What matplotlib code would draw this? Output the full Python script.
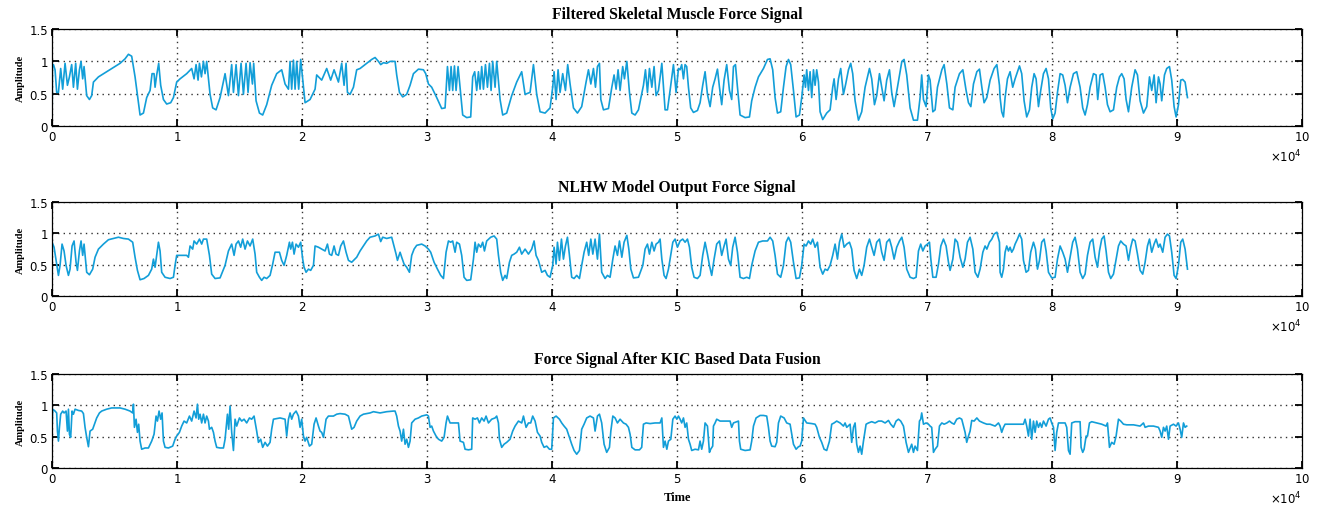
import matplotlib
matplotlib.use('Agg')
import matplotlib.pyplot as plt
from matplotlib.ticker import FuncFormatter

# (sample index, amplitude)
skeletal = [
    (0, 0.0), (30, 0.92), (110, 0.95), (240, 0.87), (370, 0.52), (510, 0.52), (690, 0.89), (850, 0.57),
    (1040, 0.97), (1230, 0.63), (1390, 0.76), (1570, 0.95), (1710, 0.60), (1890, 0.97), (2030, 0.57),
    (2190, 0.87), (2320, 1.00), (2450, 0.73), (2560, 0.92), (2770, 0.47), (2990, 0.41), (3170, 0.47),
    (3310, 0.68), (3710, 0.76), (4370, 0.84), (5040, 0.92), (5440, 0.97), (5840, 1.04), (6110, 1.11),
    (6370, 1.08), (6640, 0.76), (7040, 0.17), (7310, 0.20), (7570, 0.44), (7840, 0.55), (8000, 0.81),
    (8160, 0.81), (8240, 0.60), (8370, 0.79), (8530, 0.97), (8690, 0.63), (8910, 0.41), (9170, 0.34),
    (9490, 0.36), (9710, 0.44), (9970, 0.68), (10240, 0.73), (10770, 0.81), (11170, 0.89), (11360, 0.73),
    (11520, 0.95), (11680, 0.71), (11790, 0.97), (11950, 0.76), (12110, 1.00), (12240, 0.81), (12370, 1.00),
    (12640, 0.49), (12850, 0.28), (13120, 0.25), (13440, 0.44), (13840, 0.81), (14110, 0.47), (14370, 0.95),
    (14510, 0.52), (14720, 0.95), (14910, 0.47), (15120, 0.97), (15310, 0.49), (15520, 0.97), (15680, 0.52),
    (15840, 0.98), (16030, 0.65), (16130, 0.97), (16320, 0.39), (16590, 0.20), (16850, 0.17), (17170, 0.33),
    (17570, 0.63), (17970, 0.81), (18370, 0.87), (18640, 0.65), (18910, 0.57), (19040, 1.00), (19170, 0.57),
    (19310, 1.02), (19440, 0.57), (19570, 1.00), (19730, 0.57), (19890, 1.03), (20110, 0.60), (20240, 0.36),
    (20640, 0.41), (21040, 0.57), (21170, 0.79), (21570, 0.71), (21970, 0.89), (22290, 0.71), (22560, 0.87),
    (22910, 0.68), (23170, 0.97), (23360, 0.63), (23520, 0.97), (23630, 0.52), (23840, 0.49), (24110, 0.60),
    (24370, 0.87), (24640, 0.89), (25170, 0.97), (25570, 1.03), (25840, 1.06), (26110, 1.00), (26290, 0.95),
    (26510, 0.98), (26770, 0.97), (27040, 1.00), (27440, 1.00), (27570, 0.79), (27790, 0.52), (28050, 0.45),
    (28370, 0.49), (28640, 0.63), (28910, 0.81), (29310, 0.88), (29710, 0.87), (29890, 0.81), (30110, 0.65),
    (30370, 0.60), (30770, 0.44), (31170, 0.27), (31440, 0.28), (31630, 0.92), (31790, 0.55), (31920, 0.92),
    (32050, 0.55), (32190, 0.93), (32320, 0.55), (32480, 0.92), (32640, 0.60), (32850, 0.17), (33170, 0.13),
    (33490, 0.14), (33650, 0.76), (33810, 0.84), (33970, 0.55), (34110, 0.84), (34240, 0.57), (34370, 0.92),
    (34510, 0.57), (34670, 0.95), (34830, 0.60), (34990, 0.97), (35120, 0.55), (35250, 1.00), (35440, 0.60),
    (35570, 1.00), (35840, 0.41), (36050, 0.17), (36370, 0.20), (36770, 0.47), (37170, 0.68), (37570, 0.84),
    (37840, 0.49), (38240, 0.52), (38510, 0.95), (38770, 0.49), (39040, 0.22), (39440, 0.20), (39840, 0.28),
    (40050, 0.60), (40160, 0.84), (40320, 0.41), (40480, 0.87), (40640, 0.52), (40850, 0.81), (41070, 0.55),
    (41250, 0.95), (41440, 0.65), (41710, 0.28), (42030, 0.20), (42370, 0.30), (42720, 0.68), (42910, 0.87),
    (43100, 0.65), (43310, 0.89), (43470, 0.60), (43630, 0.92), (43790, 0.97), (43900, 0.41), (44110, 0.25),
    (44510, 0.27), (44780, 0.60), (44960, 0.79), (45120, 0.57), (45280, 0.87), (45440, 0.55), (45650, 0.92),
    (45790, 0.73), (45980, 1.00), (46190, 0.52), (46380, 0.20), (46640, 0.17), (46910, 0.25), (47310, 0.63),
    (47470, 0.87), (47630, 0.52), (47790, 0.89), (47980, 0.60), (48160, 0.92), (48320, 0.47), (48510, 0.55),
    (48780, 0.97), (49040, 0.25), (49230, 0.25), (49440, 0.55), (49710, 0.95), (49920, 0.52), (50110, 0.89),
    (50240, 0.87), (50370, 0.95), (50510, 0.73), (50640, 0.95), (50770, 0.92), (50910, 0.60), (51090, 0.28),
    (51310, 0.21), (51630, 0.24), (51840, 0.36), (52050, 0.63), (52240, 0.84), (52430, 0.49), (52640, 0.30),
    (52850, 0.60), (53040, 0.73), (53230, 0.88), (53390, 0.60), (53570, 0.33), (53760, 0.71), (53970, 0.95),
    (54190, 0.55), (54370, 0.41), (54510, 0.92), (54670, 0.95), (54830, 0.60), (55040, 0.17), (55440, 0.13),
    (55790, 0.14), (55970, 0.39), (56240, 0.60), (56510, 0.76), (56910, 0.89), (57230, 1.03), (57440, 1.04),
    (57650, 0.87), (57840, 0.44), (58030, 0.20), (58290, 0.22), (58510, 0.60), (58720, 0.92), (58910, 1.03),
    (59090, 0.95), (59310, 0.55), (59520, 0.14), (59790, 0.17), (59970, 0.44), (60160, 0.79), (60270, 0.60),
    (60370, 0.87), (60510, 0.55), (60640, 0.84), (60770, 0.44), (60910, 0.87), (61040, 0.63), (61170, 0.87),
    (61310, 0.68), (61440, 0.22), (61650, 0.10), (61970, 0.20), (62240, 0.25), (62450, 0.60), (62560, 0.73),
    (62720, 0.41), (62910, 0.73), (63090, 0.89), (63310, 0.49), (63490, 0.65), (63710, 0.87), (63890, 0.97),
    (64050, 0.81), (64240, 0.39), (64510, 0.09), (64770, 0.22), (65040, 0.60), (65390, 0.89), (65570, 0.73),
    (65790, 0.33), (65970, 0.47), (66190, 0.81), (66370, 0.60), (66560, 0.39), (66770, 0.71), (66990, 0.87),
    (67170, 0.52), (67360, 0.30), (67630, 0.60), (67980, 1.00), (68160, 1.03), (68370, 0.79), (68640, 0.28),
    (68910, 0.09), (69230, 0.09), (69440, 0.44), (69570, 0.79), (69710, 0.41), (69920, 0.30), (70110, 0.79),
    (70240, 0.71), (70460, 0.22), (70640, 0.25), (70830, 0.60), (71180, 0.87), (71360, 0.95), (71580, 0.65),
    (71790, 0.28), (72060, 0.25), (72240, 0.60), (72590, 0.81), (72860, 0.87), (73120, 0.55), (73310, 0.36),
    (73500, 0.30), (73710, 0.65), (73980, 0.84), (74190, 0.88), (74380, 0.60), (74560, 0.36), (74780, 0.44),
    (75040, 0.71), (75360, 0.89), (75580, 0.95), (75790, 0.63), (75840, 0.44), (75970, 0.22), (76110, 0.14),
    (76240, 0.44), (76430, 0.73), (76640, 0.84), (76850, 0.60), (77040, 0.73), (77230, 0.84), (77390, 0.93),
    (77570, 0.81), (77760, 0.39), (77970, 0.14), (78190, 0.25), (78370, 0.60), (78560, 0.81), (78720, 0.73),
    (78910, 0.30), (79090, 0.55), (79310, 0.81), (79520, 0.89), (79710, 0.73), (79890, 0.28), (80050, 0.11),
    (80240, 0.20), (80430, 0.52), (80640, 0.81), (80850, 0.79), (81040, 0.63), (81230, 0.36), (81440, 0.60),
    (81710, 0.81), (81970, 0.84), (82240, 0.60), (82450, 0.28), (82640, 0.17), (82830, 0.33), (83040, 0.60),
    (83310, 0.81), (83520, 0.79), (83650, 0.41), (83840, 0.79), (84050, 0.81), (84240, 0.60), (84430, 0.33),
    (84640, 0.22), (84910, 0.25), (85170, 0.60), (85390, 0.76), (85570, 0.81), (85760, 0.73), (85920, 0.41),
    (86110, 0.22), (86370, 0.60), (86640, 0.87), (86830, 0.79), (87040, 0.39), (87310, 0.20), (87570, 0.30),
    (87790, 0.76), (87970, 0.55), (88160, 0.79), (88320, 0.36), (88510, 0.76), (88640, 0.65), (88770, 0.39),
    (88990, 0.79), (89170, 0.89), (89390, 0.92), (89570, 0.71), (89760, 0.30), (89920, 0.14), (90110, 0.33),
    (90290, 0.71), (90450, 0.72), (90640, 0.68), (90830, 0.44),
]

nlhw = [
    (0, 0.86), (160, 0.78), (320, 0.57), (510, 0.33), (640, 0.49), (800, 0.83), (960, 0.72), (1120, 0.49),
    (1310, 0.33), (1440, 0.43), (1600, 0.80), (1760, 0.88), (1920, 0.54), (2030, 0.41), (2190, 0.72),
    (2320, 0.88), (2450, 0.65), (2560, 0.83), (2770, 0.38), (2990, 0.34), (3250, 0.43), (3440, 0.62),
    (3710, 0.75), (4110, 0.83), (4510, 0.90), (4910, 0.92), (5310, 0.94), (5710, 0.92), (6110, 0.91),
    (6450, 0.86), (6640, 0.62), (6830, 0.41), (7040, 0.26), (7360, 0.28), (7710, 0.33), (7970, 0.43),
    (8110, 0.59), (8240, 0.46), (8370, 0.65), (8510, 0.86), (8640, 0.72), (8770, 0.38), (9040, 0.30),
    (9440, 0.28), (9710, 0.30), (9840, 0.49), (9970, 0.65), (10770, 0.65), (10910, 0.62), (11040, 0.80),
    (11250, 0.75), (11360, 0.88), (11570, 0.83), (11790, 0.91), (11970, 0.83), (12110, 0.91), (12370, 0.91),
    (12590, 0.65), (12770, 0.35), (13040, 0.28), (13440, 0.29), (13840, 0.49), (14110, 0.72), (14370, 0.83),
    (14560, 0.65), (14720, 0.83), (14910, 0.88), (15090, 0.78), (15250, 0.91), (15440, 0.75), (15630, 0.88),
    (15840, 0.80), (16050, 0.91), (16240, 0.67), (16370, 0.38), (16590, 0.30), (16770, 0.25), (16960, 0.30),
    (17170, 0.28), (17440, 0.33), (17650, 0.51), (17840, 0.70), (18190, 0.70), (18370, 0.57), (18560, 0.49),
    (18770, 0.65), (18990, 0.86), (19090, 0.75), (19230, 0.86), (19360, 0.67), (19520, 0.83), (19710, 0.78),
    (19890, 0.86), (20050, 0.59), (20160, 0.46), (20320, 0.38), (20510, 0.43), (20690, 0.41), (20910, 0.49),
    (21040, 0.80), (21310, 0.78), (21570, 0.75), (21840, 0.72), (22030, 0.83), (22190, 0.67), (22370, 0.65),
    (22560, 0.80), (22720, 0.67), (22910, 0.65), (23090, 0.80), (23310, 0.88), (23520, 0.70), (23710, 0.57),
    (23970, 0.54), (24370, 0.62), (24640, 0.72), (24910, 0.80), (25170, 0.88), (25440, 0.94), (25840, 0.96),
    (26110, 0.99), (26290, 0.87), (26450, 0.94), (26770, 0.92), (27170, 0.94), (27310, 0.83), (27520, 0.67),
    (27630, 0.57), (27840, 0.70), (27970, 0.62), (28160, 0.51), (28370, 0.46), (28590, 0.38), (28770, 0.65),
    (28960, 0.75), (29170, 0.81), (29570, 0.83), (29840, 0.80), (30110, 0.75), (30290, 0.70), (30560, 0.54),
    (30830, 0.43), (31090, 0.33), (31310, 0.28), (31520, 0.70), (31710, 0.88), (31890, 0.86), (32050, 0.88),
    (32240, 0.70), (32370, 0.86), (32590, 0.83), (32770, 0.65), (32960, 0.30), (33170, 0.25), (33490, 0.26),
    (33710, 0.59), (33840, 0.86), (33970, 0.70), (34110, 0.83), (34290, 0.78), (34450, 0.86), (34590, 0.72),
    (34770, 0.88), (35090, 0.94), (35360, 0.96), (35570, 0.91), (35710, 0.65), (35890, 0.38), (36050, 0.25),
    (36240, 0.33), (36370, 0.28), (36590, 0.54), (36770, 0.65), (36960, 0.67), (37170, 0.70), (37390, 0.78),
    (37570, 0.67), (37840, 0.75), (38110, 0.67), (38370, 0.75), (38560, 0.88), (38720, 0.65), (38910, 0.57),
    (39170, 0.38), (39440, 0.41), (39630, 0.33), (39840, 0.30), (40050, 0.49), (40160, 0.78), (40320, 0.51),
    (40430, 0.86), (40590, 0.57), (40750, 0.91), (40910, 0.59), (41070, 0.80), (41230, 0.94), (41390, 0.65),
    (41570, 0.30), (41760, 0.28), (41970, 0.33), (42190, 0.28), (42370, 0.49), (42560, 0.70), (42770, 0.86),
    (42930, 0.65), (43100, 0.91), (43260, 0.67), (43440, 0.91), (43630, 0.59), (43790, 0.99), (43970, 0.38),
    (44240, 0.28), (44430, 0.33), (44640, 0.30), (44860, 0.59), (45040, 0.80), (45230, 0.65), (45390, 0.88),
    (45580, 0.62), (45760, 0.86), (45980, 0.97), (46140, 0.75), (46300, 0.43), (46510, 0.29), (46910, 0.30),
    (47260, 0.49), (47440, 0.75), (47630, 0.83), (47790, 0.67), (47980, 0.86), (48160, 0.72), (48320, 0.83),
    (48510, 0.86), (48640, 0.91), (48780, 0.59), (48960, 0.33), (49120, 0.28), (49310, 0.43), (49440, 0.59),
    (49660, 0.86), (49840, 0.91), (50030, 0.78), (50240, 0.88), (50450, 0.91), (50640, 0.86), (50830, 0.91),
    (50990, 0.78), (51170, 0.46), (51360, 0.30), (51630, 0.28), (51840, 0.33), (52050, 0.65), (52240, 0.86),
    (52430, 0.67), (52590, 0.49), (52770, 0.33), (52960, 0.59), (53170, 0.83), (53390, 0.88), (53570, 0.65),
    (53760, 0.80), (53920, 0.91), (54110, 0.59), (54290, 0.49), (54450, 0.78), (54640, 0.94), (54830, 0.70),
    (55040, 0.30), (55310, 0.28), (55570, 0.30), (55790, 0.28), (55970, 0.49), (56240, 0.72), (56510, 0.86),
    (56850, 0.88), (57230, 0.88), (57440, 0.94), (57650, 0.88), (57840, 0.65), (58030, 0.35), (58290, 0.30),
    (58510, 0.49), (58720, 0.86), (58910, 0.94), (59090, 0.86), (59310, 0.54), (59520, 0.28), (59790, 0.29),
    (59970, 0.49), (60160, 0.83), (60320, 0.80), (60510, 0.88), (60690, 0.83), (60850, 0.91), (61040, 0.78),
    (61230, 0.86), (61440, 0.46), (61650, 0.35), (61840, 0.43), (62030, 0.41), (62240, 0.49), (62450, 0.65),
    (62640, 0.83), (62830, 0.59), (62990, 0.86), (63170, 0.99), (63360, 0.78), (63570, 0.83), (63790, 0.86),
    (63970, 0.75), (64160, 0.41), (64370, 0.28), (64590, 0.43), (64770, 0.33), (64960, 0.49), (65170, 0.78),
    (65390, 0.91), (65570, 0.78), (65760, 0.65), (65970, 0.86), (66190, 0.91), (66370, 0.70), (66560, 0.57),
    (66770, 0.86), (66990, 0.91), (67170, 0.78), (67360, 0.59), (67570, 0.78), (67790, 0.88), (67980, 0.94),
    (68160, 0.78), (68370, 0.43), (68640, 0.30), (68910, 0.28), (69120, 0.30), (69310, 0.72), (69490, 0.83),
    (69660, 0.72), (69840, 0.80), (70030, 0.83), (70190, 0.86), (70300, 0.59), (70460, 0.30), (70720, 0.30),
    (70910, 0.51), (71100, 0.80), (71310, 0.91), (71520, 0.80), (71710, 0.54), (71840, 0.41), (72060, 0.59),
    (72240, 0.91), (72430, 0.86), (72640, 0.62), (72860, 0.46), (73040, 0.59), (73230, 0.86), (73440, 0.94),
    (73660, 0.75), (73840, 0.38), (74060, 0.30), (74240, 0.43), (74460, 0.70), (74640, 0.80), (74780, 0.75),
    (74990, 0.86), (75180, 0.91), (75360, 0.99), (75580, 1.02), (75790, 0.86), (75840, 0.38), (75970, 0.30),
    (76110, 0.43), (76240, 0.70), (76370, 0.80), (76510, 0.72), (76640, 0.78), (76770, 0.70), (76910, 0.75),
    (77040, 0.83), (77230, 0.91), (77390, 0.99), (77570, 0.91), (77710, 0.57), (77920, 0.38), (78110, 0.41),
    (78290, 0.70), (78510, 0.86), (78670, 0.75), (78830, 0.43), (78990, 0.57), (79170, 0.86), (79360, 0.91),
    (79520, 0.72), (79710, 0.38), (79970, 0.29), (80240, 0.30), (80430, 0.59), (80640, 0.80), (80850, 0.70),
    (81040, 0.59), (81230, 0.38), (81440, 0.62), (81650, 0.86), (81840, 0.94), (82030, 0.75), (82240, 0.38),
    (82450, 0.28), (82640, 0.35), (82830, 0.65), (83040, 0.86), (83250, 0.91), (83440, 0.62), (83630, 0.46),
    (83790, 0.72), (83970, 0.91), (84160, 0.96), (84320, 0.72), (84510, 0.38), (84690, 0.28), (84910, 0.35),
    (85120, 0.59), (85310, 0.80), (85490, 0.88), (85710, 0.83), (85920, 0.80), (86110, 0.57), (86290, 0.78),
    (86450, 0.91), (86640, 0.88), (86830, 0.67), (87040, 0.41), (87250, 0.35), (87440, 0.54), (87630, 0.80),
    (87790, 0.91), (87970, 0.70), (88160, 0.83), (88320, 0.91), (88510, 0.78), (88640, 0.83), (88850, 0.70),
    (89040, 0.94), (89230, 0.99), (89390, 0.96), (89570, 0.70), (89760, 0.33), (89920, 0.28), (90110, 0.49),
    (90290, 0.86), (90450, 0.91), (90640, 0.75), (90830, 0.43),
]

fused = [
    (0, 0.62), (50, 0.94), (240, 0.91), (370, 0.88), (430, 0.59), (510, 0.43), (590, 0.65), (690, 0.86),
    (850, 0.91), (960, 0.88), (1120, 0.91), (1230, 0.59), (1310, 0.94), (1390, 0.54), (1490, 0.49),
    (1600, 0.91), (1710, 0.86), (1840, 0.94), (2110, 0.92), (2370, 0.91), (2510, 0.87), (2640, 0.65),
    (2770, 0.49), (2910, 0.34), (3040, 0.59), (3250, 0.62), (3570, 0.80), (3790, 0.88), (3970, 0.91),
    (4370, 0.94), (4770, 0.96), (5440, 0.96), (5840, 0.94), (6240, 0.91), (6450, 0.88), (6510, 1.02),
    (6590, 0.65), (6720, 0.78), (6830, 0.57), (6930, 0.70), (7040, 0.43), (7170, 0.30), (7440, 0.32),
    (7710, 0.32), (7970, 0.43), (8160, 0.54), (8320, 0.83), (8430, 0.75), (8560, 0.91), (8690, 0.78),
    (8800, 0.88), (8910, 0.43), (9040, 0.33), (9310, 0.32), (9650, 0.35), (9840, 0.46), (9970, 0.51),
    (10190, 0.57), (10370, 0.67), (10560, 0.75), (10770, 0.72), (10990, 0.83), (11170, 0.75), (11360, 0.91),
    (11520, 0.80), (11630, 1.02), (11730, 0.78), (11840, 0.86), (11970, 0.72), (12110, 0.86), (12240, 0.72),
    (12370, 0.83), (12510, 0.75), (12590, 0.62), (12770, 0.65), (12910, 0.57), (13040, 0.43), (13170, 0.33),
    (13440, 0.32), (13710, 0.32), (13840, 0.46), (14030, 0.86), (14130, 0.62), (14240, 0.99), (14370, 0.57),
    (14510, 0.28), (14640, 0.78), (14770, 0.67), (14990, 0.80), (15170, 0.75), (15360, 0.78), (15570, 0.72),
    (15790, 0.80), (15970, 0.78), (16160, 0.83), (16370, 0.59), (16510, 0.41), (16690, 0.46), (16850, 0.33),
    (17040, 0.41), (17230, 0.35), (17440, 0.41), (17570, 0.62), (17710, 0.78), (18240, 0.80), (18640, 0.78),
    (18770, 0.51), (18910, 0.78), (19040, 0.88), (19170, 0.78), (19310, 0.86), (19520, 0.91), (19710, 0.83),
    (19840, 0.65), (19970, 0.78), (20110, 0.51), (20240, 0.43), (20370, 0.49), (20590, 0.35), (20770, 0.38),
    (20960, 0.70), (21120, 0.80), (21310, 0.67), (21440, 0.59), (21570, 0.57), (21710, 0.49), (21920, 0.78),
    (22110, 0.83), (22510, 0.83), (22770, 0.86), (23040, 0.87), (23440, 0.86), (23710, 0.83), (23970, 0.62),
    (24160, 0.65), (24370, 0.75), (24640, 0.83), (24910, 0.86), (25440, 0.88), (25710, 0.90), (26240, 0.88),
    (26770, 0.90), (27310, 0.91), (27440, 0.91), (27570, 0.83), (27710, 0.67), (27840, 0.59), (27970, 0.43),
    (28110, 0.62), (28240, 0.38), (28370, 0.46), (28510, 0.33), (28640, 0.43), (28770, 0.72), (29040, 0.78),
    (29310, 0.80), (29570, 0.83), (29970, 0.85), (30110, 0.83), (30240, 0.65), (30370, 0.67), (30510, 0.59),
    (30720, 0.51), (30910, 0.46), (31170, 0.43), (31360, 0.49), (31520, 0.72), (31630, 0.83), (31840, 0.72),
    (32110, 0.72), (32510, 0.72), (32640, 0.43), (32910, 0.41), (33040, 0.30), (33310, 0.29), (33570, 0.30),
    (33650, 0.80), (33840, 0.78), (34030, 0.80), (34190, 0.72), (34370, 0.80), (34560, 0.75), (34720, 0.83),
    (34910, 0.72), (35170, 0.78), (35440, 0.80), (35570, 0.83), (35710, 0.72), (35790, 0.46), (35970, 0.33),
    (36160, 0.38), (36370, 0.41), (36640, 0.46), (36850, 0.59), (37040, 0.67), (37310, 0.75), (37570, 0.72),
    (37710, 0.83), (37920, 0.65), (38110, 0.72), (38290, 0.72), (38450, 0.83), (38640, 0.75), (38830, 0.57),
    (39040, 0.51), (39170, 0.41), (39360, 0.33), (39570, 0.35), (39790, 0.30), (39970, 0.30), (40110, 0.80),
    (40320, 0.83), (40590, 0.78), (40770, 0.72), (40960, 0.67), (41170, 0.62), (41390, 0.49), (41570, 0.38),
    (41760, 0.28), (41970, 0.22), (42190, 0.28), (42370, 0.62), (42560, 0.70), (42770, 0.80), (43040, 0.83),
    (43310, 0.80), (43440, 0.59), (43630, 0.83), (43790, 0.86), (43970, 0.72), (44160, 0.38), (44370, 0.25),
    (44590, 0.33), (44700, 0.59), (44860, 0.83), (45040, 0.80), (45230, 0.72), (45440, 0.78), (45710, 0.72),
    (45920, 0.70), (46110, 0.65), (46240, 0.54), (46380, 0.33), (46640, 0.29), (46990, 0.29), (47170, 0.33),
    (47310, 0.70), (47520, 0.72), (47840, 0.71), (48240, 0.72), (48640, 0.72), (48780, 0.80), (48910, 0.33),
    (49040, 0.43), (49180, 0.30), (49310, 0.43), (49500, 0.46), (49660, 0.78), (49840, 0.83), (49980, 0.78),
    (50110, 0.83), (50240, 0.78), (50370, 0.72), (50510, 0.80), (50640, 0.65), (50770, 0.72), (50910, 0.46),
    (51040, 0.38), (51170, 0.28), (51440, 0.30), (51710, 0.29), (51840, 0.43), (51970, 0.30), (52110, 0.43),
    (52240, 0.72), (52430, 0.67), (52590, 0.25), (52690, 0.30), (52850, 0.35), (52910, 0.67), (53040, 0.72),
    (53170, 0.78), (53440, 0.75), (53840, 0.75), (54240, 0.75), (54370, 0.65), (54510, 0.72), (54910, 0.75),
    (54990, 0.43), (55090, 0.30), (55440, 0.28), (55840, 0.29), (55970, 0.43), (56110, 0.67), (56320, 0.80),
    (56640, 0.84), (56910, 0.84), (57170, 0.83), (57310, 0.65), (57440, 0.43), (57570, 0.35), (57840, 0.34),
    (57970, 0.41), (58110, 0.72), (58290, 0.83), (58560, 0.80), (58770, 0.72), (59040, 0.70), (59310, 0.38),
    (59520, 0.30), (59710, 0.34), (59840, 0.35), (59970, 0.43), (60110, 0.80), (60370, 0.72), (60770, 0.71),
    (61040, 0.70), (61170, 0.65), (61390, 0.49), (61570, 0.41), (61760, 0.30), (61970, 0.28), (62190, 0.43),
    (62370, 0.70), (62560, 0.72), (62770, 0.75), (63040, 0.72), (63310, 0.67), (63440, 0.72), (63570, 0.65),
    (63840, 0.70), (63970, 0.41), (64110, 0.65), (64240, 0.72), (64370, 0.38), (64510, 0.25), (64640, 0.35),
    (64770, 0.22), (64910, 0.43), (65120, 0.70), (65310, 0.72), (65570, 0.74), (65840, 0.72), (66110, 0.75),
    (66370, 0.75), (66640, 0.72), (66910, 0.76), (67090, 0.70), (67310, 0.65), (67520, 0.75), (67710, 0.78),
    (67890, 0.75), (68110, 0.67), (68320, 0.41), (68510, 0.25), (68770, 0.38), (68910, 0.25), (69040, 0.35),
    (69230, 0.28), (69390, 0.75), (69490, 0.78), (69570, 0.88), (69710, 0.70), (69920, 0.72), (70110, 0.70),
    (70240, 0.67), (70370, 0.65), (70510, 0.25), (70640, 0.30), (70830, 0.35), (70990, 0.67), (71180, 0.72),
    (71360, 0.70), (71580, 0.72), (71790, 0.75), (71970, 0.72), (72160, 0.70), (72370, 0.78), (72590, 0.80),
    (72770, 0.78), (73040, 0.57), (73170, 0.41), (73310, 0.51), (73440, 0.59), (73570, 0.76), (73760, 0.75),
    (73980, 0.80), (74190, 0.75), (74510, 0.72), (74780, 0.70), (75040, 0.70), (75440, 0.67), (75710, 0.72),
    (75840, 0.67), (75970, 0.57), (76110, 0.65), (76240, 0.70), (76370, 0.70), (76910, 0.70), (77440, 0.70),
    (77710, 0.70), (77840, 0.78), (77970, 0.67), (78110, 0.51), (78240, 0.78), (78370, 0.46), (78510, 0.75),
    (78640, 0.57), (78770, 0.75), (78910, 0.65), (79040, 0.72), (79170, 0.65), (79310, 0.75), (79520, 0.67),
    (79710, 0.78), (79840, 0.80), (79970, 0.72), (80110, 0.65), (80240, 0.28), (80370, 0.57), (80510, 0.72),
    (80770, 0.72), (81040, 0.72), (81170, 0.65), (81310, 0.28), (81440, 0.22), (81570, 0.72), (81840, 0.74),
    (82240, 0.74), (82320, 0.33), (82450, 0.25), (82560, 0.30), (82720, 0.51), (82830, 0.51), (82990, 0.72),
    (83170, 0.74), (83570, 0.72), (83970, 0.70), (84320, 0.67), (84430, 0.72), (84590, 0.33), (84770, 0.41),
    (84960, 0.38), (85120, 0.51), (85310, 0.78), (85490, 0.75), (85710, 0.70), (85970, 0.69), (86510, 0.69),
    (87040, 0.67), (87310, 0.72), (87440, 0.65), (87710, 0.67), (88110, 0.67), (88510, 0.65), (88640, 0.59),
    (88770, 0.49), (88910, 0.65), (89040, 0.59), (89170, 0.67), (89310, 0.46), (89440, 0.67), (89710, 0.70),
    (89920, 0.67), (90110, 0.72), (90240, 0.62), (90370, 0.49), (90510, 0.72), (90640, 0.65), (90770, 0.67),
]

titles = ['Filtered Skeletal Muscle Force Signal',
          'NLHW Model Output Force Signal',
          'Force Signal After KIC Based Data Fusion']
signals = [skeletal, nlhw, fused]
x_ticks = list(range(0, 100001, 10000))
y_ticks = [0, 0.5, 1, 1.5]

line_color = '#129ed8'
serif = 'Liberation Serif'

fig = plt.figure(figsize=(13.28, 5.10), dpi=100)
boxes = [[0.0392, 0.751, 0.9413, 0.190],
         [0.0392, 0.4176, 0.9413, 0.184],
         [0.0392, 0.0804, 0.9413, 0.184]]

for i in range(3):
    ax = fig.add_axes(boxes[i])
    t, f = zip(*signals[i])
    ax.plot(t, f, color=line_color, lw=1.2)
    ax.set_xlim(0, 100000)
    ax.set_ylim(0, 1.5)
    ax.set_xticks(x_ticks)
    ax.set_yticks(y_ticks)
    ax.yaxis.set_major_formatter(FuncFormatter(lambda v, p: '%g' % v))
    ax.ticklabel_format(axis='x', style='sci', scilimits=(4, 4), useMathText=True)
    ax.xaxis.get_offset_text().set_fontsize(8.5)
    ax.grid(True, color='#333333', linestyle=(0, (1, 3)), lw=1.0)
    ax.tick_params(direction='in', top=True, right=True, length=5, width=1.3,
                   labelsize=8.5, pad=3)
    for s in ax.spines.values():
        s.set_linewidth(0.9)
    ax.set_title(titles[i], fontfamily=serif, fontweight='bold', fontsize=11.3, pad=8)
    ax.set_ylabel('Amplitude', fontfamily=serif, fontweight='bold', fontsize=7.5, labelpad=3)
    if i == 2:
        ax.set_xlabel('Time', fontfamily=serif, fontweight='bold', fontsize=9, labelpad=4)

fig.savefig('out.png', dpi=100)
